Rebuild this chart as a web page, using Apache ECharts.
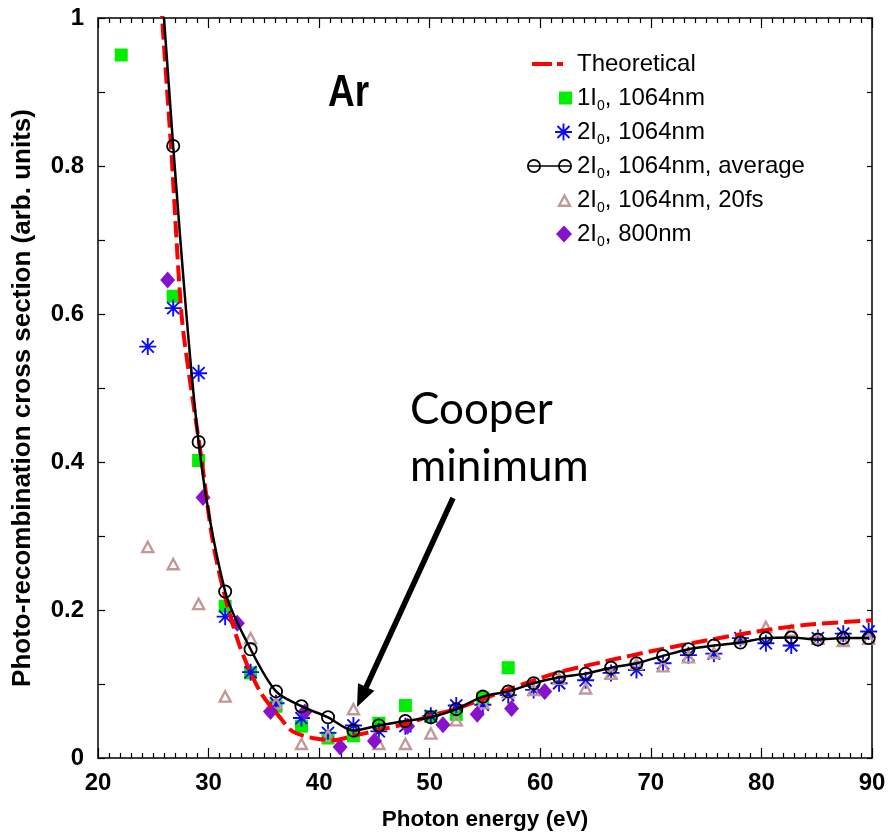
<!DOCTYPE html>
<html>
<head>
<meta charset="utf-8">
<script src="https://cdn.jsdelivr.net/npm/echarts@6/dist/echarts.min.js"></script>
<style>
  html, body { margin: 0; padding: 0; background: #fff; }
  #chart { width: 889px; height: 836px; }
</style>
</head>
<body>
<div id="chart"></div>
<script>
// Photo-recombination cross section of argon vs photon energy

// Theoretical curve (red dashed)
const theoryX = [25.0, 25.8, 26.6, 27.55, 28.3, 29.4, 30.3, 31.3, 32.8, 34.65, 36.5, 37.6, 39.4, 41.3, 43.1, 45.5, 48.0, 50.3, 52.5, 57.0, 61.5, 66.0, 70.6, 75.1, 79.6, 84.1, 90.0];
const theoryY = [1.2, 1.0, 0.827, 0.6, 0.512, 0.4, 0.3, 0.229, 0.152, 0.09, 0.054, 0.036, 0.027, 0.024, 0.03, 0.038, 0.047, 0.058, 0.067, 0.092, 0.115, 0.131, 0.146, 0.159, 0.171, 0.18, 0.186];

// 1I0, 1064nm (green squares)
const oneIX = [22.1, 26.8, 29.1, 31.5, 33.8, 36.1, 38.4, 40.8, 43.1, 45.4, 47.8, 50.1, 52.4, 54.8, 57.1];
const oneIY = [0.95, 0.624, 0.402, 0.205, 0.115, 0.07, 0.043, 0.027, 0.03, 0.047, 0.071, 0.056, 0.059, 0.081, 0.122];

// 2I0, 1064nm (blue asterisks)
const twoIX = [24.5, 26.8, 29.1, 31.5, 33.8, 36.1, 38.4, 40.8, 43.1, 45.4, 47.8, 50.1, 52.4, 54.8, 57.1, 59.4, 61.7, 64.1, 66.4, 68.7, 71.1, 73.4, 75.7, 78.1, 80.4, 82.7, 85.1, 87.4, 89.7];
const twoIY = [0.556, 0.608, 0.52, 0.191, 0.116, 0.074, 0.054, 0.034, 0.044, 0.036, 0.043, 0.057, 0.071, 0.072, 0.085, 0.092, 0.101, 0.105, 0.115, 0.119, 0.128, 0.139, 0.141, 0.162, 0.155, 0.152, 0.162, 0.168, 0.171];

// 2I0, 1064nm, average (black line with open circles)
const avgX = [24.5, 26.8, 29.1, 31.5, 33.8, 36.1, 38.4, 40.8, 43.1, 45.4, 47.8, 50.1, 52.4, 54.8, 57.1, 59.4, 61.7, 64.1, 66.4, 68.7, 71.1, 73.4, 75.7, 78.1, 80.4, 82.7, 85.1, 87.4, 89.7];
const avgY = [1.32, 0.827, 0.427, 0.225, 0.147, 0.09, 0.07, 0.055, 0.037, 0.044, 0.05, 0.055, 0.066, 0.083, 0.09, 0.101, 0.109, 0.114, 0.122, 0.128, 0.138, 0.147, 0.152, 0.156, 0.162, 0.163, 0.16, 0.162, 0.162];

// 2I0, 1064nm, 20fs (open triangles)
const fsX = [24.5, 26.8, 29.1, 31.5, 33.8, 36.1, 38.4, 40.8, 43.1, 45.4, 47.8, 50.1, 52.4, 54.8, 57.1, 59.4, 61.7, 64.1, 66.4, 68.7, 71.1, 73.4, 75.7, 78.1, 80.4, 82.7, 85.1, 87.4, 89.7];
const fsY = [0.286, 0.263, 0.209, 0.084, 0.163, 0.075, 0.02, 0.031, 0.067, 0.02, 0.02, 0.034, 0.052, 0.075, 0.09, 0.093, 0.108, 0.095, 0.115, 0.128, 0.125, 0.137, 0.143, 0.162, 0.178, 0.173, 0.162, 0.159, 0.162];

// 2I0, 800nm (purple diamonds)
const nirX = [26.3, 29.5, 32.6, 35.6, 38.7, 41.9, 45.0, 48.0, 51.2, 54.3, 57.4, 60.4];
const nirY = [0.646, 0.352, 0.182, 0.063, 0.062, 0.015, 0.023, 0.043, 0.045, 0.059, 0.067, 0.09];

// Axis ticks
const xTicks = [20, 30, 40, 50, 60, 70, 80, 90];
const yTicks = [0, 0.2, 0.4, 0.6, 0.8, 1];

const seriesNames = ['Theoretical', '1I0, 1064nm', '2I0, 1064nm', '2I0, 1064nm, average', '2I0, 1064nm, 20fs', '2I0, 800nm'];

const FONT = "'Liberation Sans', Arial, sans-serif";
const zip = (xs, ys) => xs.map((x, i) => [x, ys[i]]);

// Marker shapes
const asteriskPath = 'path://M8.9 0L11.1 0L11.1 20L8.9 20Z M0 8.9L20 8.9L20 11.1L0 11.1Z M3.71 2.15L17.85 16.29L16.29 17.85L2.15 3.71Z M16.29 2.15L17.85 3.71L3.71 17.85L2.15 16.29Z';
const ringPath = 'path://M0 7A7 7 0 1 1 14 7A7 7 0 1 1 0 7Z M1.8 7A5.2 5.2 0 1 0 12.2 7A5.2 5.2 0 1 0 1.8 7Z';
const triRingPath = 'path://M7 0L14 13L0 13Z M7 4.64L3.68 10.8L10.32 10.8Z';
const ringLinePath = 'path://M0 7A7 7 0 1 1 14 7A7 7 0 1 1 0 7Z M1.8 7A5.2 5.2 0 1 0 12.2 7A5.2 5.2 0 1 0 1.8 7Z ' +
  'M31 7A7 7 0 1 1 45 7A7 7 0 1 1 31 7Z M32.8 7A5.2 5.2 0 1 0 43.2 7A5.2 5.2 0 1 0 32.8 7Z M2 6.2H43V7.8H2Z';
const dashIconPath = 'path://M0 0H20V4H0Z M25 0H31V4H25Z';

const COLORS = {
  theory: '#ff0000',
  green: '#00ee00',
  blue: '#0a0aff',
  black: '#000000',
  tri: '#c09898',
  purple: '#8612cc'
};

// Legend: one entry per row so each icon can keep its own size
const TEXT_LEFT = 577;
const rowCenters = [64, 98, 132, 166, 200, 234];
const legendRich = {
  sub: { fontSize: 14, lineHeight: 10, verticalAlign: 'bottom', fontFamily: FONT, color: '#000' },
  sp: { width: 9, fontSize: 24, fontFamily: FONT }
};
function legendFormatter(name) {
  const lead = name === 'Theoretical' ? '{sp| }' : '';
  const parts = name.split('I0');
  return parts.length === 2 ? lead + parts[0] + 'I{sub|0}' + parts[1] : lead + name;
}
function legendRow(row, item, w, h, iconLeft) {
  return {
    data: [item],
    orient: 'vertical',
    left: iconLeft !== undefined ? iconLeft : TEXT_LEFT - 5 - w,
    top: rowCenters[row] - 15,
    padding: 0,
    itemWidth: w,
    itemHeight: h,
    selectedMode: false,
    formatter: legendFormatter,
    textStyle: { fontFamily: FONT, fontSize: 24, color: '#000', lineHeight: 30, rich: legendRich }
  };
}

const option = {
  animation: false,
  backgroundColor: '#ffffff',
  grid: { left: 98, right: 17, top: 18, bottom: 76, containLabel: false },
  legend: [
    legendRow(0, { name: seriesNames[0], icon: dashIconPath }, 31, 4, 532),
    legendRow(1, { name: seriesNames[1], icon: 'rect' }, 13, 13),
    legendRow(2, { name: seriesNames[2], icon: asteriskPath }, 17, 17),
    legendRow(3, { name: seriesNames[3], icon: ringLinePath, itemStyle: { color: '#000' } }, 45, 14),
    legendRow(4, { name: seriesNames[4], icon: triRingPath }, 15, 14),
    legendRow(5, { name: seriesNames[5], icon: 'diamond' }, 16, 17)
  ],
  xAxis: [
    {
      type: 'value', position: 'bottom', min: xTicks[0], max: xTicks[xTicks.length - 1], interval: 10,
      name: 'Photon energy (eV)', nameLocation: 'middle', nameGap: 50,
      nameTextStyle: { fontFamily: FONT, fontSize: 22.5, fontWeight: 'bold', color: '#000' },
      axisLine: { show: true, onZero: false, lineStyle: { color: '#000', width: 1.5 } },
      axisTick: { show: true, inside: true, length: 10, lineStyle: { color: '#000', width: 1.2 } },
      minorTick: { show: true, splitNumber: 10, length: 5, lineStyle: { color: '#000', width: 1.2 } },
      axisLabel: { show: true, margin: 13, fontFamily: FONT, fontSize: 24, fontWeight: 'bold', color: '#000' },
      splitLine: { show: false }
    },
    {
      type: 'value', position: 'top', min: xTicks[0], max: xTicks[xTicks.length - 1], interval: 10,
      axisLine: { show: true, onZero: false, lineStyle: { color: '#000', width: 1.5 } },
      axisTick: { show: true, inside: true, length: 10, lineStyle: { color: '#000', width: 1.2 } },
      minorTick: { show: true, splitNumber: 10, length: 5, lineStyle: { color: '#000', width: 1.2 } },
      axisLabel: { show: false },
      splitLine: { show: false }
    }
  ],
  yAxis: [
    {
      type: 'value', position: 'left', min: yTicks[0], max: yTicks[yTicks.length - 1], interval: 0.2,
      name: 'Photo-recombination cross section (arb. units)', nameLocation: 'middle', nameGap: 62, nameRotate: 90,
      nameTextStyle: { fontFamily: FONT, fontSize: 26, fontWeight: 'bold', color: '#000', padding: [0, 20, 0, 0] },
      axisLine: { show: true, onZero: false, lineStyle: { color: '#000', width: 1.5 } },
      axisTick: { show: true, inside: true, length: 7, lineStyle: { color: '#000', width: 1.2 } },
      minorTick: { show: true, splitNumber: 2, length: 7, lineStyle: { color: '#000', width: 1.2 } },
      axisLabel: {
        show: true, margin: 14, fontFamily: FONT, fontSize: 24, fontWeight: 'bold', color: '#000',
        formatter: v => (v === 0 || v === 1) ? String(v) : v.toFixed(1)
      },
      splitLine: { show: false }
    },
    {
      type: 'value', position: 'right', min: yTicks[0], max: yTicks[yTicks.length - 1], interval: 0.1,
      axisLine: { show: true, onZero: false, lineStyle: { color: '#000', width: 1.5 } },
      axisTick: { show: true, inside: true, length: 5, lineStyle: { color: '#000', width: 1.2 } },
      axisLabel: { show: false },
      splitLine: { show: false }
    }
  ],
  series: [
    {
      name: seriesNames[0], type: 'line', data: zip(theoryX, theoryY), smooth: 0.3,
      symbol: 'none', color: COLORS.theory,
      lineStyle: { color: COLORS.theory, width: 4, type: [16, 6] }
    },
    {
      name: seriesNames[1], type: 'scatter', data: zip(oneIX, oneIY),
      symbol: 'rect', symbolSize: 13, itemStyle: { color: COLORS.green, opacity: 1 }
    },
    {
      name: seriesNames[2], type: 'scatter', data: zip(twoIX, twoIY),
      symbol: asteriskPath, symbolSize: 17, itemStyle: { color: COLORS.blue, opacity: 1 }
    },
    {
      name: seriesNames[3], type: 'line', data: zip(avgX, avgY), smooth: 0.3,
      symbol: ringPath, symbolSize: 14, showAllSymbol: true, color: COLORS.black,
      itemStyle: { color: COLORS.black, opacity: 1 },
      lineStyle: { color: COLORS.black, width: 2.5 }
    },
    {
      name: seriesNames[4], type: 'scatter', data: zip(fsX, fsY),
      symbol: triRingPath, symbolSize: [15, 14], itemStyle: { color: COLORS.tri, opacity: 1 }
    },
    {
      name: seriesNames[5], type: 'scatter', data: zip(nirX, nirY),
      symbol: 'diamond', symbolSize: [15, 17], itemStyle: { color: COLORS.purple, opacity: 1 }
    }
  ],
  graphic: [
    {
      type: 'text', x: 328, y: 94, scaleX: 0.84,
      style: { text: 'Ar', fontFamily: FONT, fontSize: 44, fontWeight: 'bold', fill: '#000', verticalAlign: 'middle', align: 'left' }
    },
    {
      type: 'text', x: 410, y: 410,
      style: { text: 'Cooper', fontFamily: 'Lato, sans-serif', fontSize: 44, fill: '#000', verticalAlign: 'middle', align: 'left' }
    },
    {
      type: 'text', x: 410, y: 467,
      style: { text: 'minimum', fontFamily: 'Lato, sans-serif', fontSize: 44, fill: '#000', verticalAlign: 'middle', align: 'left' }
    },
    {
      type: 'polygon',
      shape: { points: [[455.5, 499.2], [368.7, 688.2], [374.4, 690.8], [357, 707], [358, 683.2], [363.7, 685.8], [450.5, 496.8]] },
      style: { fill: '#000' }
    }
  ]
};

const chart = echarts.init(document.getElementById('chart'), null, { renderer: 'canvas' });
chart.setOption(option);
</script>
</body>
</html>
